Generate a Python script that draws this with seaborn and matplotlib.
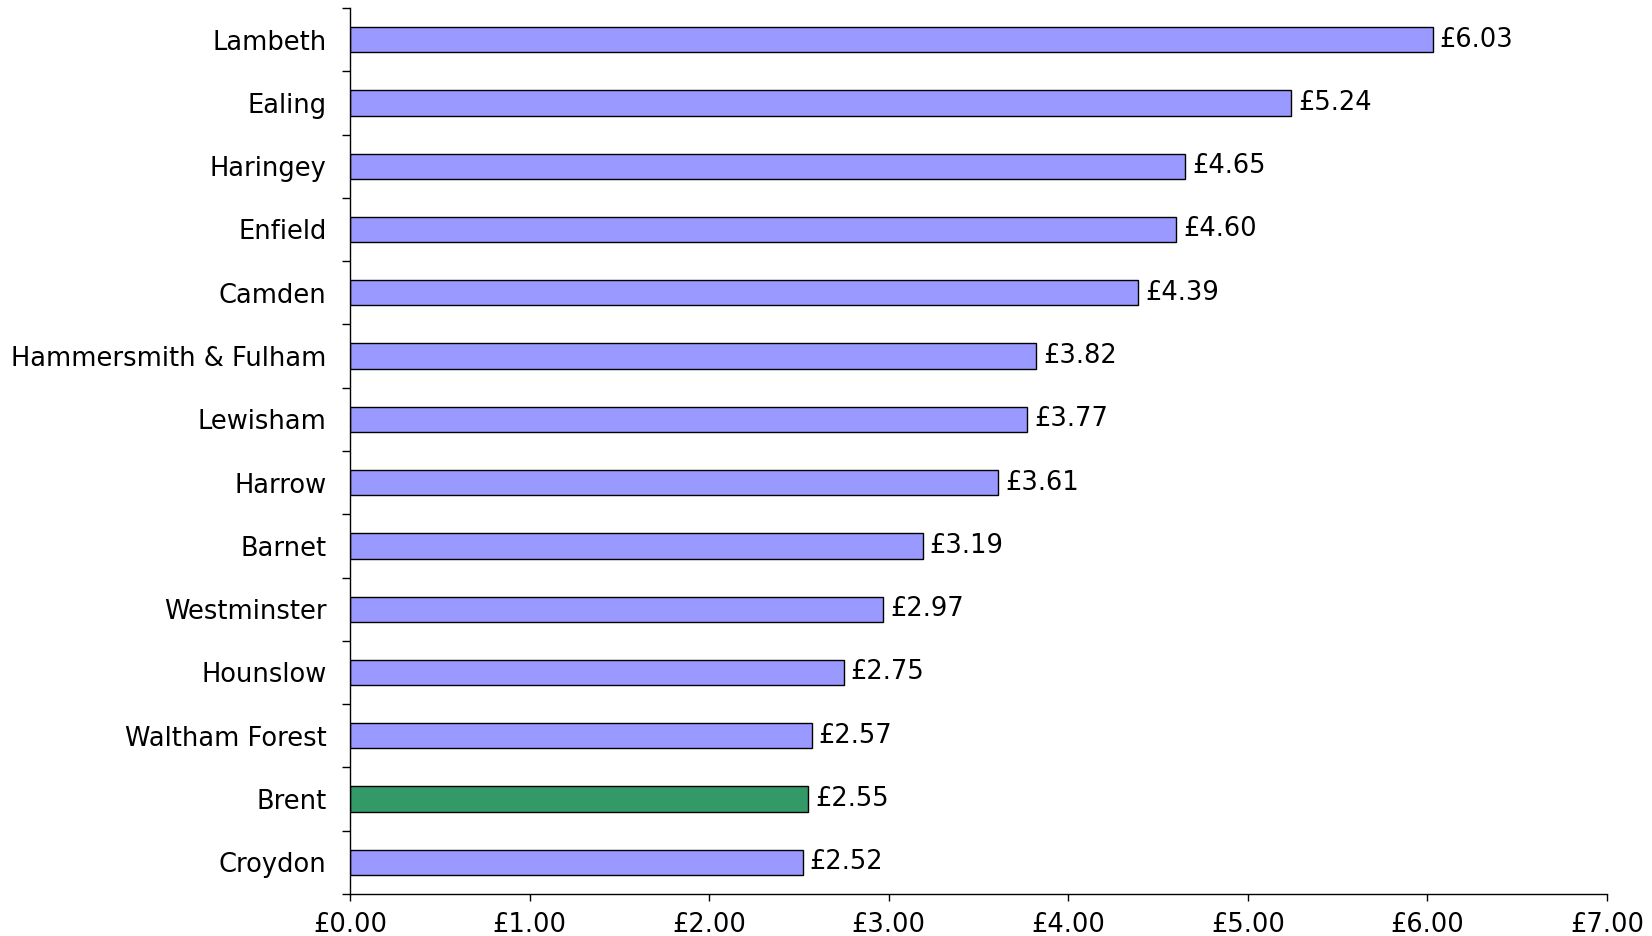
import matplotlib
matplotlib.use("Agg")
import matplotlib.pyplot as plt
import numpy as np
import pandas as pd
import seaborn as sns
from matplotlib.ticker import FuncFormatter

boroughs = ["Lambeth", "Ealing", "Haringey", "Enfield", "Camden",
            "Hammersmith & Fulham", "Lewisham", "Harrow", "Barnet",
            "Westminster", "Hounslow", "Waltham Forest", "Brent", "Croydon"]
costs = [6.03, 5.24, 4.65, 4.60, 4.39, 3.82, 3.77, 3.61, 3.19,
         2.97, 2.75, 2.57, 2.55, 2.52]
highlight = "Brent"

sns.set_theme(style="white")
plt.rcParams["font.family"] = ["DejaVu Sans"]

df = pd.DataFrame({"borough": boroughs, "cost": costs})
palette = {b: ("#339966" if b == highlight else "#9999FF") for b in boroughs}

fig = plt.figure(figsize=(16.52, 9.36), dpi=100)
ax = fig.add_axes([0.2119, 0.0449, 0.7609, 0.9466])

sns.barplot(data=df, y="borough", x="cost", hue="borough", palette=palette,
            legend=False, orient="h", width=0.4, edgecolor="black",
            linewidth=1.0, saturation=1, ax=ax)

for cont in ax.containers:
    ax.bar_label(cont, labels=[f"£{v:.2f}" for v in cont.datavalues],
                 padding=5, fontsize=18.5, color="black")

ax.set_xlim(0, 7)
ax.set_ylim(len(boroughs) - 0.5, -0.5)
ax.set_xticks(np.arange(0, 8, 1))
ax.xaxis.set_major_formatter(FuncFormatter(lambda v, p: f"£{v:.2f}"))
ax.set_yticks(np.arange(len(boroughs) + 1) - 0.5, minor=True)
ax.tick_params(axis="y", which="major", length=0, labelsize=18.5,
               labelcolor="black", pad=17)
ax.tick_params(axis="y", which="minor", length=6, width=1, color="black", left=True)
ax.tick_params(axis="x", which="major", length=5, width=1, color="black",
               bottom=True, labelsize=18.5, labelcolor="black", pad=8)
ax.set_xlabel("")
ax.set_ylabel("")
for s in ["top", "right"]:
    ax.spines[s].set_visible(False)
for s in ["left", "bottom"]:
    ax.spines[s].set_color("black")
    ax.spines[s].set_linewidth(1)

fig.savefig("out.png", dpi=100)
